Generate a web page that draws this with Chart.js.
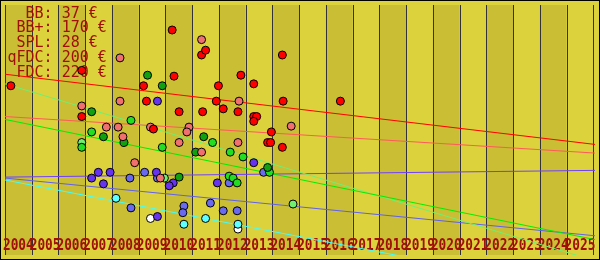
<!DOCTYPE html>
<html>
<head>
<meta charset="utf-8">
<script src="https://cdn.jsdelivr.net/npm/chart.js@4"></script>
<style>
  html, body { margin: 0; padding: 0; background: #dcd23c; }
  #wrap { width: 600px; height: 260px; }
</style>
</head>
<body>
<div id="wrap"><canvas id="myChart"></canvas></div>
<script>
const yearLabels = ['2004', '2005', '2006', '2007', '2008', '2009', '2010', '2011', '2012', '2013', '2014',
  '2015', '2016', '2017', '2018', '2019', '2020', '2021', '2022', '2023', '2024', '2025'];
const products = ['BB', 'BB+', 'SPL', 'qFDC', 'FDC'];
const prices = [37, 170, 28, 200, 220];

// [year, value]
const fdcPts = [[2003.72, 176], [2006.37, 192], [2009.75, 234], [2009.82, 186], [2008.68, 176], [2010.85, 208],
  [2011.00, 213], [2011.48, 176], [2012.32, 187], [2012.80, 178], [2013.87, 208], [2006.37, 144], [2008.79, 160],
  [2010.01, 149], [2009.05, 131], [2010.89, 149], [2011.40, 160], [2011.66, 152], [2012.21, 149], [2013.90, 160],
  [2016.04, 160], [2012.80, 144], [2012.91, 144], [2012.80, 139], [2013.46, 128], [2013.32, 117], [2013.43, 117],
  [2013.87, 112]];
const qfdcPts = [[2010.85, 224], [2007.80, 205], [2006.37, 155], [2007.80, 160], [2012.25, 160], [2007.29, 133],
  [2007.73, 133], [2008.94, 133], [2010.38, 133], [2010.30, 128], [2007.91, 123], [2010.01, 117], [2012.21, 117],
  [2014.20, 134], [2008.35, 96], [2010.85, 107], [2009.31, 80]];
const splOldPts = [[2008.83, 187], [2009.38, 176], [2006.74, 149], [2007.18, 123], [2007.95, 117], [2010.63, 107],
  [2010.93, 123], [2010.01, 81], [2013.32, 91]];
const splPts = [[2008.21, 140], [2006.74, 128], [2006.37, 112], [2009.38, 112], [2011.26, 117], [2011.92, 107],
  [2012.40, 102], [2013.39, 86], [2011.88, 82], [2012.03, 80], [2012.18, 75]];
const splLightPts = [[2006.37, 117], [2014.27, 53], [2009.46, 80]];
const bbPts = [[2009.20, 160], [2006.99, 86], [2007.43, 86], [2006.74, 80], [2007.18, 74], [2009.16, 86],
  [2009.79, 75], [2009.64, 72], [2011.44, 75], [2012.80, 96], [2009.20, 40]];
const bbPlusPts = [[2008.17, 80], [2008.72, 86], [2009.20, 80], [2011.88, 75], [2013.17, 86], [2008.21, 49],
  [2010.19, 51], [2011.18, 54], [2011.66, 46], [2012.18, 46], [2010.15, 44]];
const cyanPts = [[2007.65, 59], [2010.19, 32], [2011.00, 38], [2012.21, 32]];
const whitePts = [[2008.94, 38], [2012.21, 27]];

// trend lines: value at start and end of the axis
const trendX = [2003.5, 2025.56];
const fdcTrend = [188, 115];
const qfdcTrend = [144, 106];
const splTrend = [141, 16];
const splLightTrend = [178, -6];
const bbTrend = [81, 88];
const bbPlusTrend = [80, 20];
const cyanTrend = [78, -40];

const toXY = arr => arr.map(p => ({ x: p[0], y: p[1] }));
const trend = v => trendX.map((x, i) => ({ x: x, y: v[i] }));

function pts(data, color) {
  return { data: toXY(data), backgroundColor: color, borderColor: '#000', borderWidth: 1,
    pointRadius: 4, showLine: false, order: 1 };
}
function line(data, color) {
  return { data: trend(data), borderColor: color, borderWidth: 1, pointRadius: 0, showLine: true, order: 2 };
}

const backdrop = {
  id: 'backdrop',
  beforeDatasetsDraw(chart) {
    const { ctx, chartArea: a, scales: { x } } = chart;
    ctx.save();
    for (let i = 0; i < yearLabels.length; i++) {
      const yr = +yearLabels[i];
      const x0 = x.getPixelForValue(yr - 0.5), x1 = x.getPixelForValue(yr + 0.5);
      ctx.fillStyle = i % 2 ? '#dcd23c' : '#c9be34';
      ctx.fillRect(x0, a.top, x1 - x0, a.bottom - a.top);
    }
    ctx.strokeStyle = '#33323a';
    ctx.lineWidth = 1;
    for (let i = 0; i <= yearLabels.length; i++) {
      const px = Math.round(x.getPixelForValue(+yearLabels[0] - 0.5 + i)) + 0.5;
      ctx.beginPath();
      ctx.moveTo(px, a.top);
      ctx.lineTo(px, a.bottom);
      ctx.stroke();
    }
    ctx.fillStyle = '#a01008';
    ctx.font = 'bold 16px "DejaVu Sans Mono"';
    ctx.textAlign = 'center';
    yearLabels.forEach(lbl => {
      ctx.save();
      ctx.translate(x.getPixelForValue(+lbl), 250);
      ctx.scale(0.8, 1);
      ctx.fillText(lbl, 0, 0);
      ctx.restore();
    });
    ctx.font = '15px "DejaVu Sans Mono"';
    ctx.textAlign = 'left';
    products.forEach((p, i) => {
      ctx.save();
      ctx.translate(7.5, 17.5 + i * 14.8);
      ctx.scale(1, 1.05);
      ctx.fillText((p + ':').padStart(5) + ' ' + prices[i] + ' €', 0, 0);
      ctx.restore();
    });
    ctx.restore();
  },
  afterDraw(chart) {
    const ctx = chart.ctx;
    ctx.save();
    ctx.strokeStyle = '#000';
    ctx.lineWidth = 1;
    ctx.strokeRect(0.5, 0.5, 599, 259);
    ctx.restore();
  }
};

new Chart(document.getElementById('myChart'), {
  type: 'scatter',
  data: {
    datasets: [
      pts(fdcPts, '#ff0000'),
      pts(qfdcPts, '#f07070'),
      pts(splOldPts, '#10a010'),
      pts(splPts, '#22dd22'),
      pts(splLightPts, '#70ee70'),
      pts(bbPts, '#6633ee'),
      pts(bbPlusPts, '#6a6aee'),
      pts(cyanPts, '#60ffff'),
      pts(whitePts, '#ffffff'),
      line(fdcTrend, '#ff0000'),
      line(qfdcTrend, '#ff5a5a'),
      line(splTrend, '#00ee00'),
      line(splLightTrend, '#70f070'),
      line(bbTrend, '#7040ff'),
      line(bbPlusTrend, '#6060ee'),
      line(cyanTrend, '#40ffff')
    ]
  },
  options: {
    responsive: true,
    maintainAspectRatio: false,
    animation: false,
    layout: { padding: 0 },
    plugins: { legend: { display: false }, tooltip: { enabled: false } },
    scales: {
      x: { type: 'linear', display: false, min: 2003.5, max: 2025.56 },
      y: { display: false, min: 0, max: 260 }
    }
  },
  plugins: [backdrop]
});
</script>
</body>
</html>
